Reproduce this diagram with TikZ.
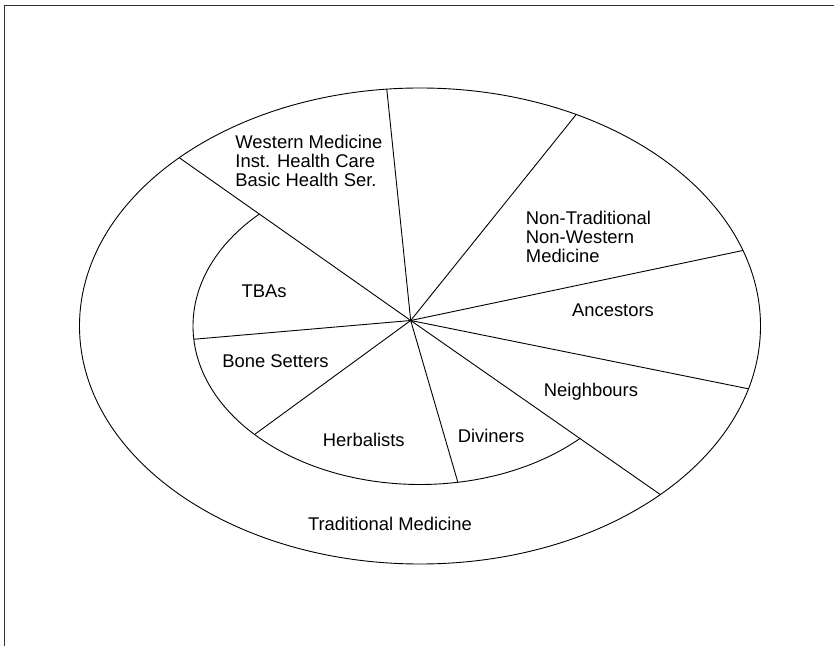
\documentclass[tikz,border=0pt]{standalone}
\usepackage{fontspec}
\setmainfont{Liberation Sans}
\usetikzlibrary{calc}

\begin{document}
\begin{tikzpicture}[
  x=1pt, y=1pt,
  font=\fontsize{18.4}{19}\selectfont,
  line width=0.9pt,
  frame/.style={line width=1.3pt, black!80},
  lbl/.style={inner sep=0pt, align=center},
  blk/.style={inner sep=0pt, align=left, anchor=west}]
\useasboundingbox (0,0) rectangle (834,645);
\draw[frame] (4.7,-2) -- (4.7,639.3) -- (836,639.3);
\coordinate (ctr) at (420,319);
\coordinate (hub) at (410.7,324.5);
% outer ring and inner arc
\draw (ctr) ellipse [x radius=340.5pt, y radius=238pt];
\draw ($(ctr)+(135:227pt and 158.5pt)$)
  arc [start angle=135, end angle=315, x radius=227pt, y radius=158.5pt];
% spoke ends
\foreach \n/\a in {wm/95.6, nt/62.7, an/18.5, ne/-15.3, tm/-45.1, tb/135}
  \coordinate (\n) at ($(ctr)+(\a:340.5pt and 238pt)$);
\foreach \n/\a in {bs/184.8, hb/223.2, dv/279.6}
  \coordinate (\n) at ($(ctr)+(\a:227pt and 158.5pt)$);
\foreach \e in {wm, nt, an, ne, tm, tb, bs, hb, dv}
  \draw (hub) -- (\e);
% labels
\node[blk] (western) at (235,484.5) {Western Medicine\\Inst. Health Care\\Basic Health Ser.};
\node[blk] (nontrad) at (525.5,408.4) {Non-Traditional\\Non-Western\\Medicine};
\node[lbl] (tbas) at (264,354) {TBAs};
\node[lbl] (ancestors) at (613,334.3) {Ancestors};
\node[lbl] (bonesetters) at (275.5,284) {Bone Setters};
\node[lbl] (neighbours) at (591,253.2) {Neighbours};
\node[lbl] (herbalists) at (363.8,205.5) {Herbalists};
\node[lbl] (diviners) at (491,208.8) {Diviners};
\node[lbl] (traditional) at (390,121.5) {Traditional Medicine};
\end{tikzpicture}
\end{document}
